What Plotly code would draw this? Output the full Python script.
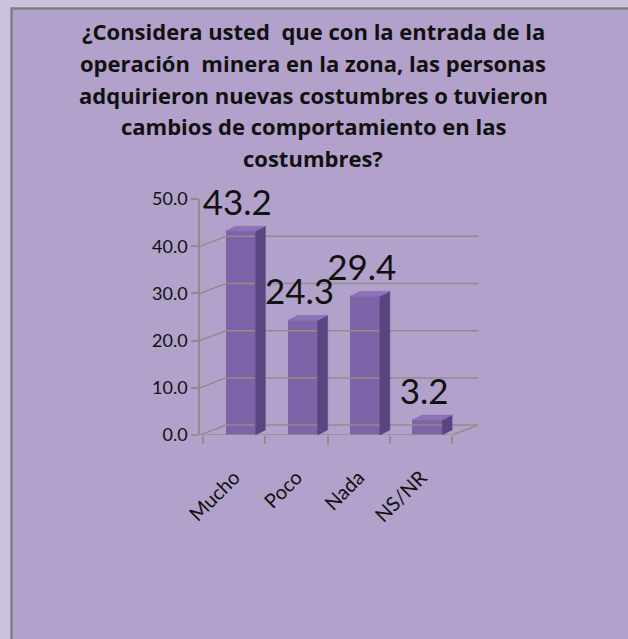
import plotly.graph_objects as go

# data
categories = ["Mucho", "Poco", "Nada", "NS/NR"]
values = [43.2, 24.3, 29.4, 3.2]
y_ticks = [0, 10, 20, 30, 40, 50]
title_lines = [
    "¿Considera usted  que con la entrada de la",
    "operación  minera en la zona, las personas",
    "adquirieron nuevas costumbres o tuvieron",
    "cambios de comportamiento en las",
    "costumbres?",
]

W, H = 628, 639
FONT = "Lato"
FRONT = "#7e63a8"
SIDE = "#5b4580"
TOP = "#8c72b6"
GRID = "#8e8f86"

X0, X1 = -0.55, 3.948      # x range (category units)
bar_w = 0.48
bar_shift = 0.1            # bars sit a little behind the floor front edge
dx, dy = 0.16, 1.05        # depth of each bar
wall_dx, wall_dy = 0.42, 2.1   # depth of back wall / floor

xs = list(range(len(categories)))
fig = go.Figure()

# back wall grid lines and floor (perspective look)
for t in y_ticks:
    fig.add_trace(go.Scatter(
        x=[X0, X0 + wall_dx, 3.5 + wall_dx], y=[t, t + wall_dy, t + wall_dy],
        mode="lines", line=dict(color=GRID, width=1.5), cliponaxis=False,
        hoverinfo="skip", showlegend=False))
fig.add_trace(go.Scatter(
    x=[X0, 3.5, 3.5 + wall_dx], y=[0, 0, wall_dy],
    mode="lines", line=dict(color=GRID, width=1.5), cliponaxis=False,
    hoverinfo="skip", showlegend=False))

# side and top faces of each bar
for i, v in zip(xs, values):
    c = i + bar_shift
    r = c + bar_w / 2
    l = c - bar_w / 2
    fig.add_trace(go.Scatter(
        x=[r, r + dx, r + dx, r, r], y=[0, dy, v + dy, v, 0],
        fill="toself", fillcolor=SIDE, mode="lines",
        line=dict(color=SIDE, width=0.5), hoverinfo="skip", showlegend=False))
    fig.add_trace(go.Scatter(
        x=[l, l + dx, r + dx, r, l], y=[v, v + dy, v + dy, v, v],
        fill="toself", fillcolor=TOP, mode="lines",
        line=dict(color=TOP, width=0.5), hoverinfo="skip", showlegend=False))

# front faces
fig.add_trace(go.Bar(
    x=[i + bar_shift for i in xs], y=values, width=bar_w,
    marker=dict(color=FRONT, line=dict(width=0)),
    showlegend=False, hoverinfo="skip"))

# value labels
fig.add_trace(go.Scatter(
    x=[i + 0.05 for i in xs], y=[v + 1.5 for v in values], mode="text",
    text=[f"{v:.1f}" for v in values], textposition="top center",
    textfont=dict(family=FONT, size=35, color="#111111"),
    cliponaxis=False, showlegend=False, hoverinfo="skip"))

# chart area frame
fig.add_shape(type="rect", xref="paper", yref="paper",
              x0=11.5 / W, x1=1.3, y0=-0.3, y1=1 - 8.5 / H,
              fillcolor="#b1a1cb", line=dict(color="#808080", width=2.5),
              layer="below")

for k, line in enumerate(title_lines):
    fig.add_annotation(
        text=line, xref="paper", yref="paper", x=313 / W, y=1 - (31 + k * 31.8) / H,
        xanchor="center", yanchor="middle", showarrow=False,
        font=dict(family="Open Sans", size=22, color="#111111", weight="bold"))

fig.update_layout(
    width=W, height=H, margin=dict(l=0, r=0, t=0, b=0),
    paper_bgcolor="#cdc2de", plot_bgcolor="rgba(0,0,0,0)",
    template="none", bargap=0,
    xaxis=dict(
        domain=[200 / W, 480 / W], range=[X0, X1],
        tickvals=xs, ticktext=categories, tickangle=-45,
        tickfont=dict(family=FONT, size=20, color="#111111"),
        showgrid=False, zeroline=False, showline=False,
        ticks="", ticklabelstandoff=26, automargin=False,
        minor=dict(tickvals=[i - 0.5 for i in xs] + [3.5], ticks="outside",
                   ticklen=8, tickcolor=GRID, tickwidth=1.5, showgrid=False)),
    yaxis=dict(
        domain=[(H - 435) / H, (H - 199) / H], range=[0, 50],
        tickvals=y_ticks, tickformat=".1f",
        tickfont=dict(family=FONT, size=18, color="#111111"),
        showgrid=False, zeroline=False,
        showline=True, linecolor=GRID, linewidth=1.5,
        ticks="outside", ticklen=7, tickcolor=GRID, tickwidth=1.5,
        automargin=False),
)

fig.write_html("out.html", config={"displayModeBar": False},
               post_script="document.body.style.margin='0';")
